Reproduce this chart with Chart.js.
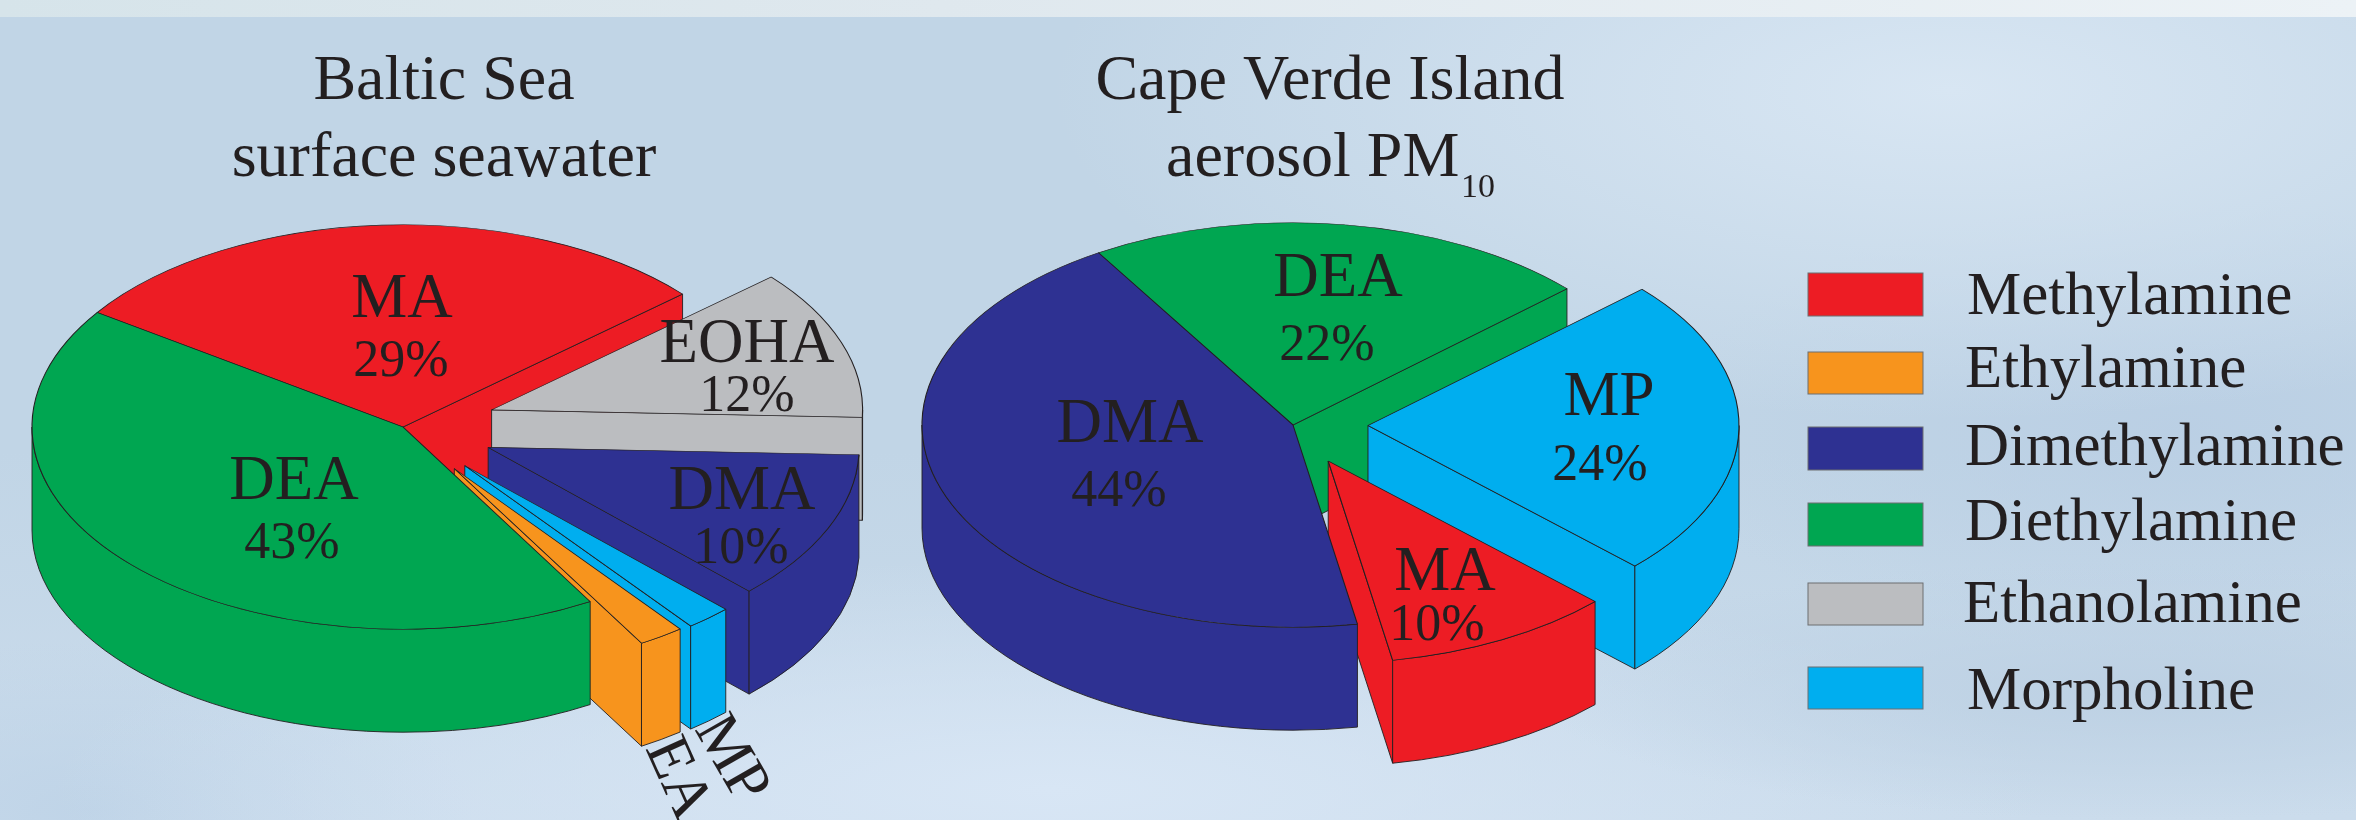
<!DOCTYPE html>
<html><head><meta charset="utf-8">
<style>
html,body{margin:0;padding:0;width:2356px;height:820px;overflow:hidden;background:#c6d8e9}
#bg{position:absolute;left:0;top:0;width:2356px;height:820px;
background:
 linear-gradient(90deg,#d6e4ea 0,#dfe8ee 40%,#ecf2f6 100%) 0 0/100% 17px no-repeat,
 radial-gradient(ellipse 620px 130px at 2150px 690px,rgba(188,208,227,.95),rgba(188,208,227,0) 100%),
 radial-gradient(ellipse 1000px 230px at 1050px 790px,rgba(216,230,245,1),rgba(216,230,245,0) 100%),
 radial-gradient(ellipse 380px 170px at 90px 810px,rgba(190,211,231,.9),rgba(190,211,231,0) 100%),
 radial-gradient(ellipse 900px 330px at 1950px 90px,rgba(216,230,243,1),rgba(216,230,243,0) 100%),
 radial-gradient(ellipse 520px 230px at 2180px 430px,rgba(186,207,228,.95),rgba(186,207,228,0) 100%),
 linear-gradient(180deg,#c1d5e6 0,#c1d5e6 55%,#cbdcec 100%);}
canvas{position:absolute;left:0;top:0}
</style>
<script src="https://cdn.jsdelivr.net/npm/chart.js@4/dist/chart.umd.min.js"></script>
</head><body>
<div id="bg"></div>
<canvas id="left" width="2356" height="820"></canvas>
<canvas id="right" width="2356" height="820"></canvas>
<script>
const balticLabels = ['MA','EOHA','DMA','MP','EA','DEA'];
const balticValues = [29,12,12,2,2,43];
const balticPercents = ['29%','12%','10%','','','43%'];
const balticColors = ['#ed1c24','#bbbdc0','#2e3192','#00aeef','#f7941d','#00a651'];
const balticExplode = [0,94,93,94,92,0];
const balticOrder = [0,1,2,3,4,5];

const capeLabels = ['DEA','MP','MA','DMA'];
const capeValues = [22,24,10,44];
const capePercents = ['22%','24%','10%','44%'];
const capeColors = ['#00a651','#00aeef','#ed1c24','#2e3192'];
const capeExplode = [0,75,75,0];
const capeOrder = [0,1,2,3];

const legendNames = ['Methylamine','Ethylamine','Dimethylamine','Diethylamine','Ethanolamine','Morpholine'];
const legendColors = ['#ed1c24','#f7941d','#2e3192','#00a651','#bbbdc0','#00aeef'];

const INK = '#231f20', SERIF = '"Liberation Serif"';
const TILT = 0.545, DEPTH = 103;

function text(ctx, s, x, y, size, align, rot) {
  ctx.save();
  ctx.fillStyle = INK;
  ctx.font = size + 'px ' + SERIF;
  ctx.textAlign = align || 'center';
  ctx.textBaseline = 'alphabetic';
  ctx.translate(x, y);
  if (rot) ctx.rotate(rot);
  ctx.fillText(s, 0, 0);
  ctx.restore();
}

function walls(ctx, arc, cx, cy, color) {
  const r = arc.outerRadius, a = arc.startAngle, b = arc.endAngle;
  const P = (t, rad) => [cx + rad * Math.cos(t), cy + TILT * rad * Math.sin(t)];
  ctx.save();
  ctx.fillStyle = color;
  ctx.strokeStyle = INK;
  ctx.lineWidth = 0.9;
  ctx.lineJoin = 'round';
  const radial = (t) => {
    const p = P(t, r);
    ctx.beginPath();
    ctx.moveTo(cx, cy);
    ctx.lineTo(p[0], p[1]);
    ctx.lineTo(p[0], p[1] + DEPTH);
    ctx.lineTo(cx, cy + DEPTH);
    ctx.closePath();
    ctx.fill();
    ctx.stroke();
  };
  if (Math.cos(a) < 0) radial(a);
  if (Math.cos(b) > 0) radial(b);
  for (let n = -1; n <= 1; n++) {
    const lo = Math.max(a, 2 * Math.PI * n), hi = Math.min(b, 2 * Math.PI * n + Math.PI);
    if (hi <= lo) continue;
    ctx.beginPath();
    ctx.ellipse(cx, cy, r, TILT * r, 0, lo, hi);
    ctx.ellipse(cx, cy + DEPTH, r, TILT * r, 0, hi, lo, true);
    ctx.closePath();
    ctx.fill();
    ctx.stroke();
  }
  ctx.restore();
}

const pie3d = {
  id: 'pie3d',
  beforeDatasetDraw(chart, args, o) {
    const ctx = chart.ctx, arcs = args.meta.data, ds = chart.data.datasets[0];
    o.order.forEach(i => {
      const arc = arcs[i];
      const mid = (arc.startAngle + arc.endAngle) / 2;
      const cx = o.cx + o.explode[i] * Math.cos(mid);
      const cy = o.cy + TILT * o.explode[i] * Math.sin(mid);
      walls(ctx, arc, cx, cy, ds.backgroundColor[i]);
      ctx.save();
      ctx.translate(cx, cy);
      ctx.scale(1, TILT);
      ctx.translate(-arc.x, -arc.y);
      arc.draw(ctx);
      ctx.restore();
    });
    return false;
  },
  afterDraw(chart, args, o) {
    const ctx = chart.ctx;
    o.title.forEach(t => text(ctx, t[0], t[1], t[2], t[3], t[4]));
    o.marks.forEach(t => text(ctx, t[0], t[1], t[2], t[3], t[5] || 'center', t[4]));
    if (o.legend) {
      legendNames.forEach((name, i) => {
        const row = o.legend[i];
        ctx.fillStyle = legendColors[i];
        ctx.strokeStyle = '#6d6e71';
        ctx.lineWidth = 1;
        ctx.fillRect(1808, row[0], 115, row[1] - row[0]);
        ctx.strokeRect(1808, row[0], 115, row[1] - row[0]);
        text(ctx, name, row[2], row[3], 61, 'left');
      });
    }
  }
};

function make(id, labels, values, colors, rotation, pluginOpts) {
  return new Chart(document.getElementById(id), {
    type: 'pie',
    data: { labels, datasets: [{ data: values, backgroundColor: colors, borderColor: INK, borderWidth: 1.1, radius: 371 }] },
    options: {
      responsive: false, animation: false, rotation,
      layout: { padding: 0 },
      plugins: { legend: { display: false }, tooltip: { enabled: false }, pie3d: pluginOpts }
    },
    plugins: [pie3d]
  });
}

make('left', balticLabels, balticValues, balticColors, -55.5, {
  cx: 403, cy: 427, explode: balticExplode, order: balticOrder,
  title: [['Baltic Sea', 444, 99, 64, 'center'], ['surface seawater', 444, 176, 64, 'center']],
  marks: [
    [balticLabels[0], 402, 317, 63], [balticPercents[0], 401, 376, 52],
    [balticLabels[1], 747, 362, 63], [balticPercents[1], 747, 411, 52],
    [balticLabels[2], 742, 509, 63], [balticPercents[2], 741, 563, 52],
    [balticLabels[5], 294, 499, 63], [balticPercents[5], 292, 558, 52],
    [balticLabels[3], 694, 729, 62, 1.05, 'left'], [balticLabels[4], 645, 748, 62, 1.15, 'left']
  ]
});

make('right', capeLabels, capeValues, capeColors, -31.6, {
  cx: 1293, cy: 425, explode: capeExplode, order: capeOrder,
  title: [['Cape Verde Island', 1330, 99, 64, 'center'], ['aerosol PM', 1166, 176, 64, 'left'], ['10', 1461, 197, 34, 'left']],
  marks: [
    [capeLabels[0], 1338, 296, 63], [capePercents[0], 1327, 360, 52],
    [capeLabels[1], 1609, 415, 63], [capePercents[1], 1600, 480, 52],
    [capeLabels[2], 1445, 590, 63], [capePercents[2], 1437, 640, 52],
    [capeLabels[3], 1130, 442, 63], [capePercents[3], 1119, 506, 52]
  ],
  legend: [[273,316,1967,314],[352,394,1965,387],[427,470,1965,465],[503,546,1965,540],[583,625,1963,622],[667,709,1967,709]]
});
</script>
</body></html>
